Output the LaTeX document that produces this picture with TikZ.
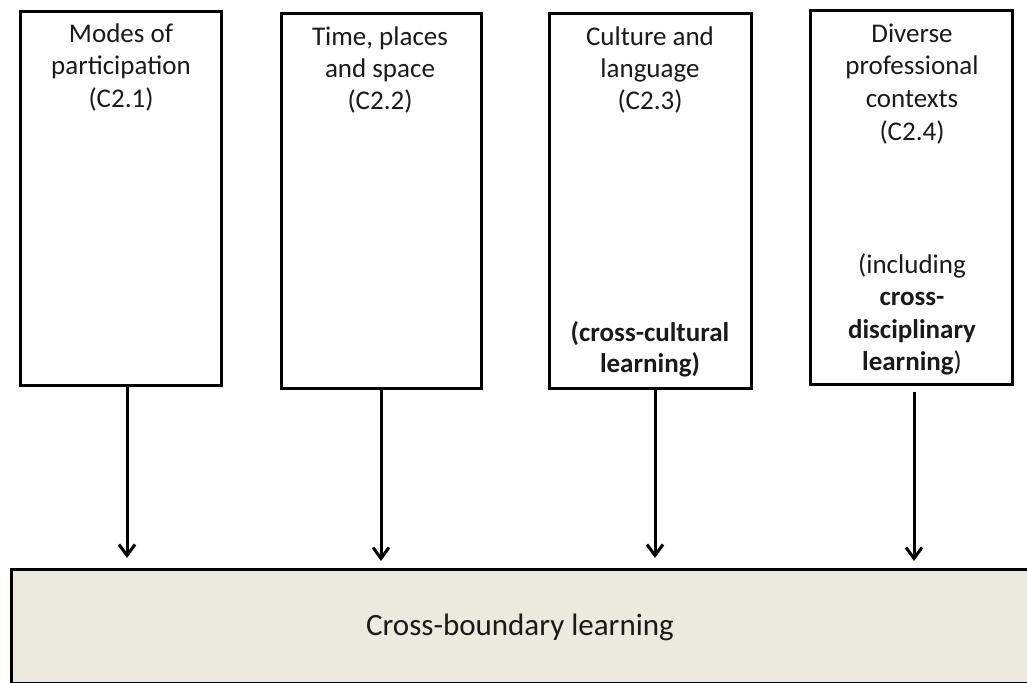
\documentclass[tikz,border=0pt]{standalone}
\usepackage{fontspec}
\setmainfont{Carlito}
\usetikzlibrary{arrows.meta}
\definecolor{basefill}{HTML}{ECE9DE}
\definecolor{txt}{HTML}{1A1A1A}
\tikzset{
  box/.style={draw=black, line width=3pt, fill=white, inner sep=0pt},
  bigbox/.style={draw=black, line width=3pt, fill=basefill, inner sep=0pt},
  lbl/.style={anchor=base, inner sep=0pt, text=txt, font=\fontsize{27}{32}\selectfont},
  biglbl/.style={anchor=base, inner sep=0pt, text=txt, font=\fontsize{31}{37}\selectfont},
  arr/.style={line width=3pt, -{Straight Barb[length=11pt,width=16pt,line width=3pt]}}
}
\begin{document}
\begin{tikzpicture}[x=1pt,y=-1pt]
\useasboundingbox (0,0) rectangle (1027,682);
\clip (0,0) rectangle (1027,682);
% boxes
\node[box, minimum width=201pt, minimum height=373pt] (b1) at (120.5,198.5) {};
\node[box, minimum width=200pt, minimum height=374pt] (b2) at (381,201) {};
\node[box, minimum width=202pt, minimum height=374pt] (b3) at (650,201) {};
\node[box, minimum width=202pt, minimum height=373pt] (b4) at (911,197.5) {};
\node[bigbox, minimum width=1030pt, minimum height=114pt] (base) at (526.5,626) {};
% box 1 text
\node[lbl] (t1a) at (121,43) {Modes of};
\node[lbl] (t1b) at (121,75) {participation};
\node[lbl] (t1c) at (121,107) {(C2.1)};
% box 2 text
\node[lbl] (t2a) at (380,46) {Time, places};
\node[lbl] (t2b) at (380,78) {and space};
\node[lbl] (t2c) at (380,110) {(C2.2)};
% box 3 text
\node[lbl] (t3a) at (650,46) {Culture and};
\node[lbl] (t3b) at (650,78) {language};
\node[lbl] (t3c) at (650,110) {(C2.3)};
\node[lbl] (t3d) at (650,341) {\textbf{(cross-cultural}};
\node[lbl] (t3e) at (650,372) {\textbf{learning)}};
% box 4 text
\node[lbl] (t4a) at (912,43) {Diverse};
\node[lbl] (t4b) at (912,75) {professional};
\node[lbl] (t4c) at (912,108) {contexts};
\node[lbl] (t4d) at (912,140) {(C2.4)};
\node[lbl] (t4e) at (912,273) {(including};
\node[lbl] (t4f) at (912,305) {\textbf{cross-}};
\node[lbl] (t4g) at (912,338) {\textbf{disciplinary}};
\node[lbl] (t4h) at (912,370) {\textbf{learning})};
% bottom text
\node[biglbl] (bt) at (520,635) {Cross-boundary learning};
% arrows
\coordinate (e1) at (127,558);
\coordinate (e2) at (381,561);
\coordinate (e3) at (655,558);
\coordinate (e4) at (914,561);
\draw[arr] (b1.south -| e1) -- (e1);
\draw[arr] (b2.south -| e2) -- (e2);
\draw[arr] (b3.south -| e3) -- (e3);
\draw[arr] ([yshift=-6pt]b4.south -| e4) -- (e4);
\end{tikzpicture}
\end{document}
